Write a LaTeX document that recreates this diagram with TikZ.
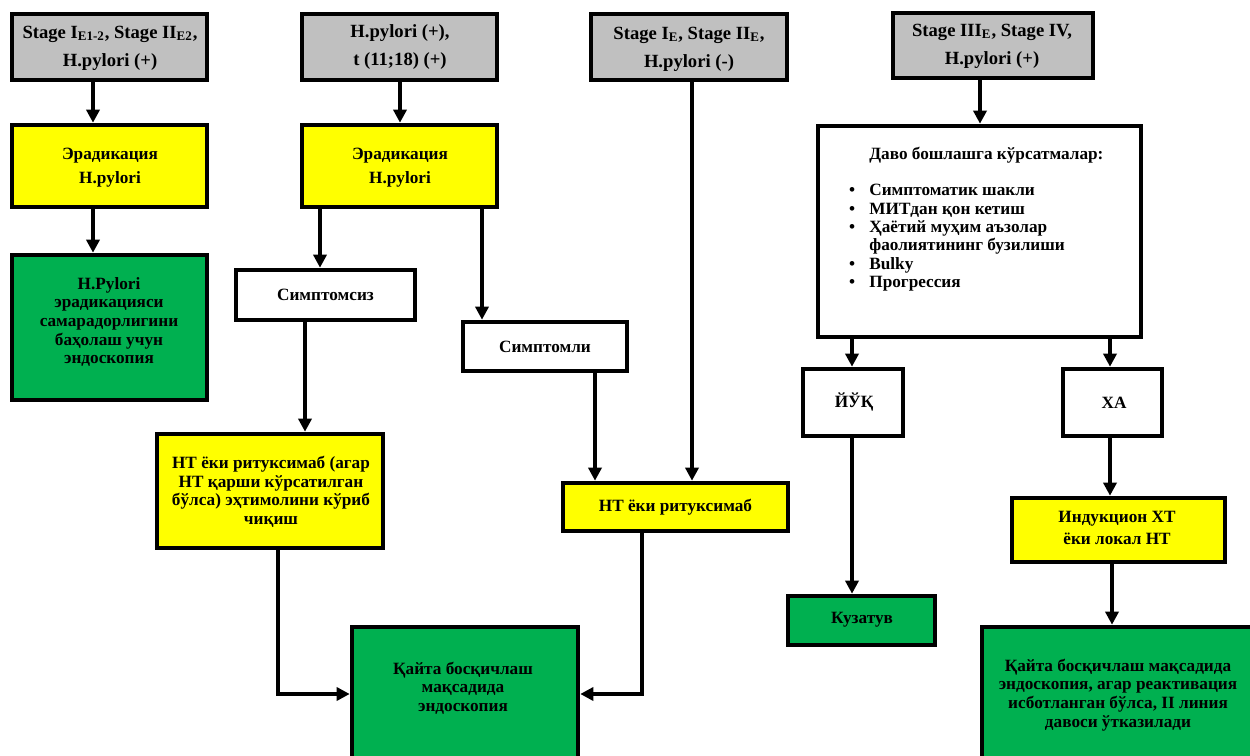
\documentclass[tikz,border=0pt]{standalone}
\usepackage{fontspec}
\setmainfont{Liberation Serif}
\usetikzlibrary{arrows.meta,fit}
\definecolor{hgray}{HTML}{C0C0C0}
\definecolor{hyellow}{HTML}{FFFF00}
\definecolor{hgreen}{HTML}{00B050}
\begin{document}
\begin{tikzpicture}[x=0.02cm,y=-0.02cm,
  box/.style={draw=black, line width=2.6pt, inner sep=0pt},
  head/.style={box, fill=hgray},
  ybox/.style={box, fill=hyellow},
  gbox/.style={box, fill=hgreen},
  wbox/.style={box, fill=white},
  txt/.style={inner sep=0pt, align=center, font=\fontsize{9.8}{10.6}\selectfont\bfseries},
  htxt/.style={inner sep=0pt, align=center, font=\fontsize{10.6}{13}\selectfont\bfseries},
  ltxt/.style={inner sep=0pt, anchor=base west, font=\fontsize{9.8}{10.6}\selectfont\bfseries},
  bul/.style={inner sep=0pt, anchor=base, font=\fontsize{9.8}{10.6}\selectfont\bfseries},
  arr/.style={line width=2pt, -{Triangle[length=7.5pt,width=7.5pt]}}]
\useasboundingbox (0,0) rectangle (1250,756);
\clip (0,0) rectangle (1250,756);
% headers
\node[head, fit={(12,14) (207,80)}] (h1) {};
\node[htxt] (h1t) at (110,48) {Stage I\textsubscript{E1-2}, Stage II\textsubscript{E2},\\[3pt] H.pylori (+)};
\node[head, fit={(302,14) (497,80)}] (h2) {};
\node[htxt] (h2t) at (400,47) {H.pylori (+),\\[3pt] t (11;18) (+)};
\node[head, fit={(591,14) (787,80)}] (h3) {};
\node[htxt] (h3t) at (689,49) {Stage I\textsubscript{E}, Stage II\textsubscript{E},\\[3pt] H.pylori (-)};
\node[head, fit={(893,13) (1093,78)}] (h4) {};
\node[htxt] (h4t) at (992,46) {Stage III\textsubscript{E}, Stage IV,\\[3pt] H.pylori (+)};
% column 1
\node[ybox, fit={(12,125) (207,207)}] (e1) {};
\node[txt] (e1t) at (110,168) {Эрадикация\\[3pt] H.pylori};
\node[gbox, fit={(12,255) (207,400)}] (g1) {};
\node[txt] (g1t) at (109,322) {H.Pylori\\ эрадикацияси\\ самарадорлигини\\ баҳолаш учун\\ эндоскопия};
% column 2
\node[ybox, fit={(302,125) (497,207)}] (e2) {};
\node[txt] (e2t) at (400,168) {Эрадикация\\[3pt] H.pylori};
\node[wbox, fit={(236,270) (415,320)}] (s1) {};
\node[txt] (s1t) at (s1.center) {Симптомсиз};
\node[wbox, fit={(463,322) (627,371)}] (s2) {};
\node[txt] (s2t) at (s2.center) {Симптомли};
\node[ybox, fit={(157,434) (383,548)}] (t1) {};
\node[txt] (t1t) at (271,492) {НТ ёки ритуксимаб (агар\\ НТ қарши кўрсатилган\\ бўлса) эҳтимолини кўриб\\ чиқиш};
\node[ybox, fit={(563,483) (788,531)}] (t2) {};
\node[txt] (t2t) at (t2.center) {НТ ёки ритуксимаб};
\node[gbox, fit={(352,627) (578,790)}] (k1) {};
\node[txt] (k1t) at (463,688) {Қайта босқичлаш\\ мақсадида\\ эндоскопия};
% column 4
\node[wbox, fit={(818,126) (1141,337)}] (big) {};
\node[ltxt] (l0) at (869,160) {Даво бошлашга кўрсатмалар:};
\node[bul] (b1) at (852,196) {\textbullet};
\node[ltxt] (l1) at (869,196) {Симптоматик шакли};
\node[bul] (b2) at (852,215) {\textbullet};
\node[ltxt] (l2) at (869,215) {МИТдан қон кетиш};
\node[bul] (b3) at (852,233) {\textbullet};
\node[ltxt] (l3) at (869,233) {Ҳаётий муҳим аъзолар};
\node[ltxt] (l4) at (869,251) {фаолиятининг бузилиши};
\node[bul] (b5) at (852,270) {\textbullet};
\node[ltxt] (l5) at (869,270) {Bulky};
\node[bul] (b6) at (852,288) {\textbullet};
\node[ltxt] (l6) at (869,288) {Прогрессия};
\node[wbox, fit={(803,369) (903,436)}] (y1) {};
\node[txt] (y1t) at (854,402) {ЙЎҚ};
\node[wbox, fit={(1063,369) (1162,436)}] (x1) {};
\node[txt] (x1t) at (1114,403) {ХА};
\node[gbox, fit={(788,596) (935,645)}] (kz) {};
\node[txt] (kzt) at (862,620) {Кузатув};
\node[ybox, fit={(1012,498) (1225,562)}] (ind) {};
\node[txt] (indt) at (1117,528) {Индукцион ХТ\\[2pt] ёки локал НТ};
\node[gbox, fit={(982,627) (1270,790)}] (k2) {};
\node[txt] (k2t) at (1118,695) {Қайта босқичлаш мақсадида\\ эндоскопия, агар реактивация\\ исботланган бўлса, II линия\\ давоси ўтказилади};
% connectors
\draw[arr] (93,0 |- h1.south) -- (93,0 |- e1.north);
\draw[arr] (93,0 |- e1.south) -- (93,0 |- g1.north);
\draw[arr] (400,0 |- h2.south) -- (400,0 |- e2.north);
\draw[arr] (320,0 |- e2.south) -- (320,0 |- s1.north);
\draw[arr] (482,0 |- e2.south) -- (482,0 |- s2.north);
\draw[arr] (305,0 |- s1.south) -- (305,0 |- t1.north);
\draw[arr] (595,0 |- s2.south) -- (595,0 |- t2.north);
\draw[arr] (692,0 |- h3.south) -- (692,0 |- t2.north);
\draw[arr] (278,0 |- t1.south) |- (352,694 -| k1.west);
\draw[arr] (642,0 |- t2.south) |- (578,694 -| k1.east);
\draw[arr] (980,0 |- h4.south) -- (980,0 |- big.north);
\draw[arr] (852,0 |- big.south) -- (852,0 |- y1.north);
\draw[arr] (1110,0 |- big.south) -- (1110,0 |- x1.north);
\draw[arr] (852,0 |- y1.south) -- (852,0 |- kz.north);
\draw[arr] (1110,0 |- x1.south) -- (1110,0 |- ind.north);
\draw[arr] (1112,0 |- ind.south) -- (1112,0 |- k2.north);
\end{tikzpicture}
\end{document}
